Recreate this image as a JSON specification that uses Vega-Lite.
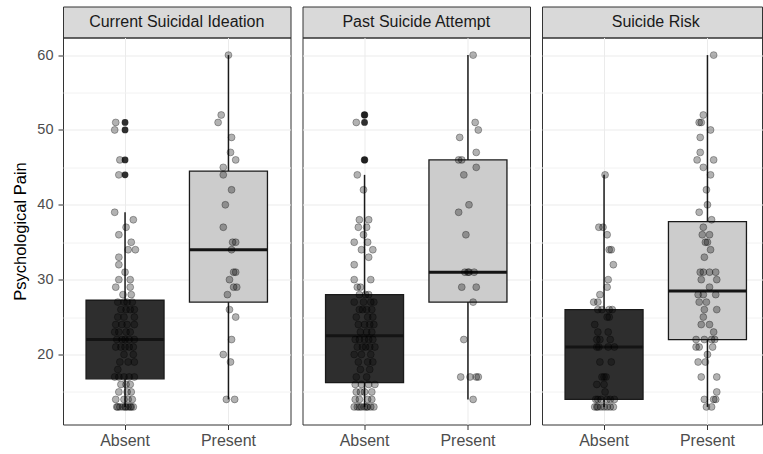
{
"$schema": "https://vega.github.io/schema/vega-lite/v6.json",
"padding": {"left": 12, "top": 5.5, "right": 0, "bottom": 0},
"background": "white",
"datasets": {
"ideation": [
{"grp":"Present","v":60,"j":0},{"grp":"Present","v":52,"j":-0.07},{"grp":"Present","v":51,"j":-0.1},{"grp":"Present","v":49,"j":0.03},{"grp":"Present","v":47,"j":0.02},{"grp":"Present","v":46,"j":0.07},{"grp":"Present","v":45,"j":-0.05},{"grp":"Present","v":44,"j":-0.05},{"grp":"Present","v":42,"j":0.03},{"grp":"Present","v":40,"j":-0.03},{"grp":"Present","v":37,"j":-0.05},{"grp":"Present","v":35,"j":0.04},{"grp":"Present","v":35,"j":0.07},{"grp":"Present","v":34,"j":0.03},{"grp":"Present","v":31,"j":0.05},{"grp":"Present","v":31,"j":0.07},{"grp":"Present","v":30,"j":0.01},{"grp":"Present","v":29,"j":0.05},{"grp":"Present","v":29,"j":0.08},{"grp":"Present","v":28,"j":-0.01},{"grp":"Present","v":26,"j":0.01},{"grp":"Present","v":25,"j":0.07},{"grp":"Present","v":22,"j":0.03},{"grp":"Present","v":20,"j":-0.05},{"grp":"Present","v":19,"j":0.02},{"grp":"Present","v":14,"j":-0.02},{"grp":"Present","v":14,"j":0.06},
{"grp":"Absent","v":51,"j":-0.09},{"grp":"Absent","v":50,"j":-0.1},{"grp":"Absent","v":46,"j":-0.05},{"grp":"Absent","v":44,"j":-0.06},{"grp":"Absent","v":39,"j":-0.1},{"grp":"Absent","v":38,"j":0.08},{"grp":"Absent","v":37,"j":0.01},{"grp":"Absent","v":36,"j":-0.06},{"grp":"Absent","v":35,"j":0.06},{"grp":"Absent","v":34,"j":0.03},{"grp":"Absent","v":34,"j":0.1},{"grp":"Absent","v":33,"j":-0.06},{"grp":"Absent","v":32,"j":-0.06},{"grp":"Absent","v":31,"j":0},{"grp":"Absent","v":30,"j":-0.06},{"grp":"Absent","v":30,"j":0.05},{"grp":"Absent","v":29,"j":-0.09},{"grp":"Absent","v":29,"j":0.05},{"grp":"Absent","v":28,"j":0.06},{"grp":"Absent","v":28,"j":-0.02},
{"grp":"Absent","v":27,"j":-0.07},{"grp":"Absent","v":27,"j":-0.01},{"grp":"Absent","v":27,"j":0.02},{"grp":"Absent","v":27,"j":0.07},
{"grp":"Absent","v":26,"j":-0.04},{"grp":"Absent","v":26,"j":0.01},{"grp":"Absent","v":26,"j":0.05},{"grp":"Absent","v":26,"j":0.09},
{"grp":"Absent","v":25,"j":-0.07},{"grp":"Absent","v":25,"j":-0.01},{"grp":"Absent","v":25,"j":0.09},
{"grp":"Absent","v":24,"j":-0.09},{"grp":"Absent","v":24,"j":-0.03},{"grp":"Absent","v":24,"j":0.02},{"grp":"Absent","v":24,"j":0.09},
{"grp":"Absent","v":23,"j":-0.1},{"grp":"Absent","v":23,"j":-0.06},{"grp":"Absent","v":23,"j":0.01},{"grp":"Absent","v":23,"j":0.05},
{"grp":"Absent","v":22,"j":-0.08},{"grp":"Absent","v":22,"j":-0.03},{"grp":"Absent","v":22,"j":0},{"grp":"Absent","v":22,"j":0.04},{"grp":"Absent","v":22,"j":0.09},
{"grp":"Absent","v":21,"j":-0.09},{"grp":"Absent","v":21,"j":-0.04},{"grp":"Absent","v":21,"j":0},{"grp":"Absent","v":21,"j":0.04},{"grp":"Absent","v":21,"j":0.08},
{"grp":"Absent","v":20,"j":-0.01},{"grp":"Absent","v":20,"j":0.08},
{"grp":"Absent","v":19,"j":-0.05},{"grp":"Absent","v":19,"j":0.03},{"grp":"Absent","v":19,"j":0.09},
{"grp":"Absent","v":18,"j":-0.07},
{"grp":"Absent","v":17,"j":-0.1},{"grp":"Absent","v":17,"j":-0.06},{"grp":"Absent","v":17,"j":-0.01},{"grp":"Absent","v":17,"j":0.04},{"grp":"Absent","v":17,"j":0.09},
{"grp":"Absent","v":16,"j":-0.04},{"grp":"Absent","v":16,"j":0.01},{"grp":"Absent","v":16,"j":0.05},
{"grp":"Absent","v":15,"j":-0.06},{"grp":"Absent","v":15,"j":0.02},{"grp":"Absent","v":15,"j":0.06},
{"grp":"Absent","v":14,"j":-0.09},{"grp":"Absent","v":14,"j":-0.01},{"grp":"Absent","v":14,"j":0.03},{"grp":"Absent","v":14,"j":0.07},
{"grp":"Absent","v":13,"j":-0.08},{"grp":"Absent","v":13,"j":-0.07},{"grp":"Absent","v":13,"j":-0.05},{"grp":"Absent","v":13,"j":-0.02},{"grp":"Absent","v":13,"j":0},{"grp":"Absent","v":13,"j":0.01},{"grp":"Absent","v":13,"j":0.03},{"grp":"Absent","v":13,"j":0.05},{"grp":"Absent","v":13,"j":0.06},{"grp":"Absent","v":13,"j":0.08}
],
"attempt": [
{"grp":"Present","v":60,"j":0.05},{"grp":"Present","v":51,"j":0.07},{"grp":"Present","v":50,"j":0.1},{"grp":"Present","v":49,"j":-0.08},{"grp":"Present","v":47,"j":0.08},{"grp":"Present","v":46,"j":-0.09},{"grp":"Present","v":46,"j":-0.06},{"grp":"Present","v":45,"j":0.08},{"grp":"Present","v":44,"j":-0.04},{"grp":"Present","v":40,"j":0.01},{"grp":"Present","v":39,"j":-0.09},{"grp":"Present","v":36,"j":-0.02},{"grp":"Present","v":31,"j":-0.03},{"grp":"Present","v":31,"j":0},{"grp":"Present","v":31,"j":0.01},{"grp":"Present","v":31,"j":0.06},{"grp":"Present","v":29,"j":-0.06},{"grp":"Present","v":29,"j":0.08},{"grp":"Present","v":27,"j":0.05},{"grp":"Present","v":22,"j":-0.04},{"grp":"Present","v":17,"j":-0.07},{"grp":"Present","v":17,"j":0.02},{"grp":"Present","v":17,"j":0.08},{"grp":"Present","v":17,"j":0.1},{"grp":"Present","v":14,"j":0.05},
{"grp":"Absent","v":52,"j":0},{"grp":"Absent","v":51,"j":-0.08},{"grp":"Absent","v":46,"j":0},{"grp":"Absent","v":44,"j":-0.07},{"grp":"Absent","v":42,"j":-0.01},{"grp":"Absent","v":38,"j":-0.05},{"grp":"Absent","v":38,"j":0.04},{"grp":"Absent","v":37,"j":-0.06},{"grp":"Absent","v":37,"j":0.02},{"grp":"Absent","v":36,"j":-0.01},{"grp":"Absent","v":35,"j":-0.1},{"grp":"Absent","v":35,"j":0.03},{"grp":"Absent","v":34,"j":-0.03},{"grp":"Absent","v":34,"j":0.08},{"grp":"Absent","v":33,"j":0.04},{"grp":"Absent","v":32,"j":-0.1},{"grp":"Absent","v":30,"j":-0.1},{"grp":"Absent","v":30,"j":0.06},{"grp":"Absent","v":29,"j":-0.07},{"grp":"Absent","v":29,"j":-0.04},
{"grp":"Absent","v":28,"j":0.04},{"grp":"Absent","v":28,"j":-0.05},{"grp":"Absent","v":28,"j":0.01},
{"grp":"Absent","v":27,"j":-0.1},{"grp":"Absent","v":27,"j":-0.01},{"grp":"Absent","v":27,"j":0.06},{"grp":"Absent","v":27,"j":0.09},
{"grp":"Absent","v":26,"j":-0.05},{"grp":"Absent","v":26,"j":-0.02},{"grp":"Absent","v":26,"j":0.02},{"grp":"Absent","v":26,"j":0.07},
{"grp":"Absent","v":25,"j":-0.08},{"grp":"Absent","v":25,"j":0.03},{"grp":"Absent","v":25,"j":0.08},
{"grp":"Absent","v":24,"j":-0.06},{"grp":"Absent","v":24,"j":0},{"grp":"Absent","v":24,"j":0.05},{"grp":"Absent","v":24,"j":0.09},
{"grp":"Absent","v":23,"j":-0.04},{"grp":"Absent","v":23,"j":0.02},{"grp":"Absent","v":23,"j":0.07},
{"grp":"Absent","v":22,"j":-0.09},{"grp":"Absent","v":22,"j":-0.05},{"grp":"Absent","v":22,"j":0},{"grp":"Absent","v":22,"j":0.04},{"grp":"Absent","v":22,"j":0.08},
{"grp":"Absent","v":21,"j":-0.07},{"grp":"Absent","v":21,"j":-0.02},{"grp":"Absent","v":21,"j":0.01},{"grp":"Absent","v":21,"j":0.05},{"grp":"Absent","v":21,"j":0.1},
{"grp":"Absent","v":20,"j":-0.1},{"grp":"Absent","v":20,"j":-0.03},{"grp":"Absent","v":20,"j":0.06},
{"grp":"Absent","v":19,"j":-0.06},{"grp":"Absent","v":19,"j":0.03},{"grp":"Absent","v":19,"j":0.08},
{"grp":"Absent","v":18,"j":-0.04},{"grp":"Absent","v":18,"j":0.05},
{"grp":"Absent","v":17,"j":-0.08},{"grp":"Absent","v":17,"j":0.02},
{"grp":"Absent","v":16,"j":-0.09},{"grp":"Absent","v":16,"j":-0.03},{"grp":"Absent","v":16,"j":0.04},{"grp":"Absent","v":16,"j":0.1},
{"grp":"Absent","v":15,"j":-0.08},{"grp":"Absent","v":15,"j":-0.04},{"grp":"Absent","v":15,"j":0},{"grp":"Absent","v":15,"j":0.07},
{"grp":"Absent","v":14,"j":-0.09},{"grp":"Absent","v":14,"j":-0.05},{"grp":"Absent","v":14,"j":0.03},{"grp":"Absent","v":14,"j":0.07},
{"grp":"Absent","v":13,"j":-0.1},{"grp":"Absent","v":13,"j":-0.07},{"grp":"Absent","v":13,"j":-0.05},{"grp":"Absent","v":13,"j":-0.03},{"grp":"Absent","v":13,"j":0},{"grp":"Absent","v":13,"j":0.02},{"grp":"Absent","v":13,"j":0.03},{"grp":"Absent","v":13,"j":0.06},{"grp":"Absent","v":13,"j":0.09}
],
"risk": [
{"grp":"Present","v":60,"j":0.06},{"grp":"Present","v":52,"j":-0.04},{"grp":"Present","v":51,"j":-0.08},{"grp":"Present","v":51,"j":-0.06},{"grp":"Present","v":50,"j":0.03},{"grp":"Present","v":49,"j":-0.07},{"grp":"Present","v":47,"j":-0.07},{"grp":"Present","v":46,"j":-0.1},{"grp":"Present","v":46,"j":0.06},{"grp":"Present","v":45,"j":-0.04},{"grp":"Present","v":44,"j":0.03},{"grp":"Present","v":42,"j":-0.01},{"grp":"Present","v":40,"j":0},{"grp":"Present","v":39,"j":-0.08},{"grp":"Present","v":38,"j":0.04},{"grp":"Present","v":37,"j":-0.04},{"grp":"Present","v":36,"j":-0.05},{"grp":"Present","v":36,"j":0.02},{"grp":"Present","v":35,"j":-0.02},{"grp":"Present","v":35,"j":0},{"grp":"Present","v":34,"j":0.03},{"grp":"Present","v":33,"j":-0.03},{"grp":"Present","v":31,"j":-0.07},{"grp":"Present","v":31,"j":-0.04},{"grp":"Present","v":31,"j":0.02},{"grp":"Present","v":31,"j":0.08},{"grp":"Present","v":30,"j":-0.06},{"grp":"Present","v":30,"j":0.09},{"grp":"Present","v":29,"j":0.02},{"grp":"Present","v":28,"j":-0.09},{"grp":"Present","v":28,"j":-0.04},{"grp":"Present","v":28,"j":0.08},{"grp":"Present","v":27,"j":-0.08},{"grp":"Present","v":27,"j":-0.01},{"grp":"Present","v":26,"j":-0.03},{"grp":"Present","v":26,"j":0.09},{"grp":"Present","v":25,"j":-0.04},{"grp":"Present","v":24,"j":-0.06},{"grp":"Present","v":24,"j":0.02},{"grp":"Present","v":23,"j":0.06},{"grp":"Present","v":22,"j":-0.11},{"grp":"Present","v":22,"j":-0.03},{"grp":"Present","v":22,"j":0.04},{"grp":"Present","v":22,"j":0.07},{"grp":"Present","v":21,"j":-0.11},{"grp":"Present","v":21,"j":-0.08},{"grp":"Present","v":21,"j":0.05},{"grp":"Present","v":20,"j":0},{"grp":"Present","v":19,"j":-0.09},{"grp":"Present","v":19,"j":-0.02},{"grp":"Present","v":17,"j":-0.06},{"grp":"Present","v":17,"j":0.09},{"grp":"Present","v":15,"j":0.09},{"grp":"Present","v":14,"j":-0.03},{"grp":"Present","v":14,"j":0.06},{"grp":"Present","v":14,"j":0.08},{"grp":"Present","v":13,"j":-0.01},{"grp":"Present","v":13,"j":0.04},
{"grp":"Absent","v":44,"j":0.01},{"grp":"Absent","v":37,"j":-0.05},{"grp":"Absent","v":37,"j":-0.01},{"grp":"Absent","v":36,"j":0.03},{"grp":"Absent","v":34,"j":0.05},{"grp":"Absent","v":34,"j":0.07},{"grp":"Absent","v":32,"j":0.09},{"grp":"Absent","v":30,"j":0.04},{"grp":"Absent","v":29,"j":0.03},{"grp":"Absent","v":28,"j":-0.04},
{"grp":"Absent","v":27,"j":-0.1},{"grp":"Absent","v":27,"j":-0.06},{"grp":"Absent","v":26,"j":-0.06},{"grp":"Absent","v":26,"j":-0.02},{"grp":"Absent","v":26,"j":0.05},{"grp":"Absent","v":26,"j":0.08},{"grp":"Absent","v":25,"j":0.03},{"grp":"Absent","v":25,"j":0.05},{"grp":"Absent","v":24,"j":-0.09},{"grp":"Absent","v":23,"j":-0.06},
{"grp":"Absent","v":23,"j":0.04},{"grp":"Absent","v":22,"j":-0.07},{"grp":"Absent","v":22,"j":-0.04},{"grp":"Absent","v":22,"j":0.06},{"grp":"Absent","v":21,"j":-0.07},{"grp":"Absent","v":21,"j":-0.05},{"grp":"Absent","v":21,"j":0.04},{"grp":"Absent","v":21,"j":0.1},{"grp":"Absent","v":19,"j":-0.04},{"grp":"Absent","v":19,"j":0.07},
{"grp":"Absent","v":17,"j":-0.02},{"grp":"Absent","v":17,"j":0},{"grp":"Absent","v":17,"j":0.02},{"grp":"Absent","v":16,"j":-0.07},{"grp":"Absent","v":16,"j":0},{"grp":"Absent","v":15,"j":0.01},{"grp":"Absent","v":14,"j":0.06},{"grp":"Absent","v":14,"j":0.1},{"grp":"Absent","v":14,"j":-0.08},{"grp":"Absent","v":14,"j":-0.03},
{"grp":"Absent","v":14,"j":0.03},{"grp":"Absent","v":14,"j":-0.06},{"grp":"Absent","v":13,"j":-0.09},{"grp":"Absent","v":13,"j":-0.06},{"grp":"Absent","v":13,"j":-0.03},{"grp":"Absent","v":13,"j":0.03},{"grp":"Absent","v":13,"j":0.09},{"grp":"Absent","v":13,"j":0},{"grp":"Absent","v":13,"j":0.06},{"grp":"Absent","v":13,"j":-0.07}
]
},
"concat": [
  {"width": 227.5, "height": 31, "data": {"values": [{"t": "Current Suicidal Ideation"}]}, "view": {"fill": "#D9D9D9", "stroke": "#333333"}, "mark": {"type": "text", "fontSize": 16, "color": "#1A1A1A", "font": "Liberation Sans"}, "encoding": {"text": {"field": "t"}}},
  {"width": 227.5, "height": 31, "data": {"values": [{"t": "Past Suicide Attempt"}]}, "view": {"fill": "#D9D9D9", "stroke": "#333333"}, "mark": {"type": "text", "fontSize": 16, "color": "#1A1A1A", "font": "Liberation Sans"}, "encoding": {"text": {"field": "t"}}},
  {"width": 220, "height": 31, "data": {"values": [{"t": "Suicide Risk"}]}, "view": {"fill": "#D9D9D9", "stroke": "#333333"}, "mark": {"type": "text", "fontSize": 16, "color": "#1A1A1A", "font": "Liberation Sans", "dx": 3.75}, "encoding": {"text": {"field": "t"}}},
  {"width": 227.5, "height": 387, "data": {"name": "ideation"}, "view": {"stroke": "#333333"},
   "layer": [
    {"mark": {"type": "boxplot", "extent": 1.5, "size": 78, "box": {"stroke": "#1A1A1A", "strokeWidth": 1.3}, "median": {"color": "#141414", "thickness": 3, "opacity": 1}, "rule": {"color": "#1A1A1A", "strokeWidth": 1.5, "opacity": 1}, "ticks": false, "outliers": {"filled": true, "color": "#111111", "size": 45, "opacity": 1}},
     "encoding": {
      "x": {"field": "grp", "type": "nominal", "scale": {"domain": ["Absent", "Present"], "paddingInner": 0, "paddingOuter": 0.1}, "axis": {"title": null, "labelAngle": 0, "grid": true, "bandPosition": 0.5, "labelFontSize": 16, "labelPadding": 3}},
      "y": {"field": "v", "type": "quantitative", "scale": {"domain": [10.65, 62.35], "nice": false, "zero": false}, "axis": {"values": [20, 30, 40, 50, 60], "title": "Psychological Pain", "titleFontSize": 16.5, "titleColor": "#000000", "labelFontSize": 14.5, "labelPadding": 5, "titlePadding": 8, "grid": true}},
      "color": {"field": "grp", "type": "nominal", "scale": {"domain": ["Absent", "Present"], "range": ["#2E2E2E", "#CCCCCC"]}, "legend": null}
     }},
    {"mark": {"type": "point", "filled": true, "size": 48, "opacity": 1, "fill": "#000000", "fillOpacity": 0.3, "stroke": "#000000", "strokeOpacity": 0.38, "strokeWidth": 0.8},
     "encoding": {
      "x": {"field": "grp", "type": "nominal"},
      "xOffset": {"field": "j", "type": "quantitative", "scale": {"domain": [-0.5, 0.5], "nice": false, "zero": false}},
      "y": {"field": "v", "type": "quantitative", "axis": {"orient": "right", "values": [15, 25, 35, 45, 55], "grid": true, "labels": false, "ticks": false, "title": null, "gridColor": "#F2F2F2"}}
     }}
   ],
   "resolve": {"axis": {"y": "independent"}}},
  {"width": 227.5, "height": 387, "data": {"name": "attempt"}, "view": {"stroke": "#333333"},
   "layer": [
    {"mark": {"type": "boxplot", "extent": 1.5, "size": 78, "box": {"stroke": "#1A1A1A", "strokeWidth": 1.3}, "median": {"color": "#141414", "thickness": 3, "opacity": 1}, "rule": {"color": "#1A1A1A", "strokeWidth": 1.5, "opacity": 1}, "ticks": false, "outliers": {"filled": true, "color": "#111111", "size": 45, "opacity": 1}},
     "encoding": {
      "x": {"field": "grp", "type": "nominal", "scale": {"domain": ["Absent", "Present"], "paddingInner": 0, "paddingOuter": 0.1}, "axis": {"title": null, "labelAngle": 0, "grid": true, "bandPosition": 0.5, "labelFontSize": 16, "labelPadding": 3}},
      "y": {"field": "v", "type": "quantitative", "scale": {"domain": [10.65, 62.35], "nice": false, "zero": false}, "axis": {"values": [20, 30, 40, 50, 60], "title": null, "labels": false, "ticks": false, "grid": true}},
      "color": {"field": "grp", "type": "nominal", "scale": {"domain": ["Absent", "Present"], "range": ["#2E2E2E", "#CCCCCC"]}, "legend": null}
     }},
    {"mark": {"type": "point", "filled": true, "size": 48, "opacity": 1, "fill": "#000000", "fillOpacity": 0.3, "stroke": "#000000", "strokeOpacity": 0.38, "strokeWidth": 0.8},
     "encoding": {
      "x": {"field": "grp", "type": "nominal"},
      "xOffset": {"field": "j", "type": "quantitative", "scale": {"domain": [-0.5, 0.5], "nice": false, "zero": false}},
      "y": {"field": "v", "type": "quantitative", "axis": {"orient": "right", "values": [15, 25, 35, 45, 55], "grid": true, "labels": false, "ticks": false, "title": null, "gridColor": "#F2F2F2"}}
     }}
   ],
   "resolve": {"axis": {"y": "independent"}}},
  {"width": 220, "height": 387, "data": {"name": "risk"}, "view": {"stroke": "#333333"},
   "layer": [
    {"mark": {"type": "boxplot", "extent": 1.5, "size": 78, "box": {"stroke": "#1A1A1A", "strokeWidth": 1.3}, "median": {"color": "#141414", "thickness": 3, "opacity": 1}, "rule": {"color": "#1A1A1A", "strokeWidth": 1.5, "opacity": 1}, "ticks": false, "outliers": {"filled": true, "color": "#111111", "size": 45, "opacity": 1}},
     "encoding": {
      "x": {"field": "grp", "type": "nominal", "scale": {"domain": ["Absent", "Present"], "paddingInner": 0, "paddingOuter": 0.1, "range": [0, 227.5]}, "axis": {"title": null, "labelAngle": 0, "grid": true, "bandPosition": 0.5, "labelFontSize": 16, "labelPadding": 3}},
      "y": {"field": "v", "type": "quantitative", "scale": {"domain": [10.65, 62.35], "nice": false, "zero": false}, "axis": {"values": [20, 30, 40, 50, 60], "title": null, "labels": false, "ticks": false, "grid": true}},
      "color": {"field": "grp", "type": "nominal", "scale": {"domain": ["Absent", "Present"], "range": ["#2E2E2E", "#CCCCCC"]}, "legend": null}
     }},
    {"mark": {"type": "point", "filled": true, "size": 48, "opacity": 1, "fill": "#000000", "fillOpacity": 0.3, "stroke": "#000000", "strokeOpacity": 0.38, "strokeWidth": 0.8},
     "encoding": {
      "x": {"field": "grp", "type": "nominal"},
      "xOffset": {"field": "j", "type": "quantitative", "scale": {"domain": [-0.5, 0.5], "nice": false, "zero": false}},
      "y": {"field": "v", "type": "quantitative", "axis": {"orient": "right", "values": [15, 25, 35, 45, 55], "grid": true, "labels": false, "ticks": false, "title": null, "gridColor": "#F2F2F2"}}
     }}
   ],
   "resolve": {"axis": {"y": "independent"}}}
],
"columns": 3,
"spacing": {"row": 0, "column": 11.5},
"bounds": "flush",
"config": {
  "font": "Liberation Sans",
  "view": {"stroke": "#333333", "strokeWidth": 1},
  "axis": {"labelFont": "Liberation Sans", "titleFont": "Liberation Sans", "labelColor": "#4D4D4D", "tickColor": "#333333", "tickSize": 5, "gridColor": "#EBEBEB", "gridWidth": 1, "domain": false, "titleFontWeight": "normal"}
}
}
